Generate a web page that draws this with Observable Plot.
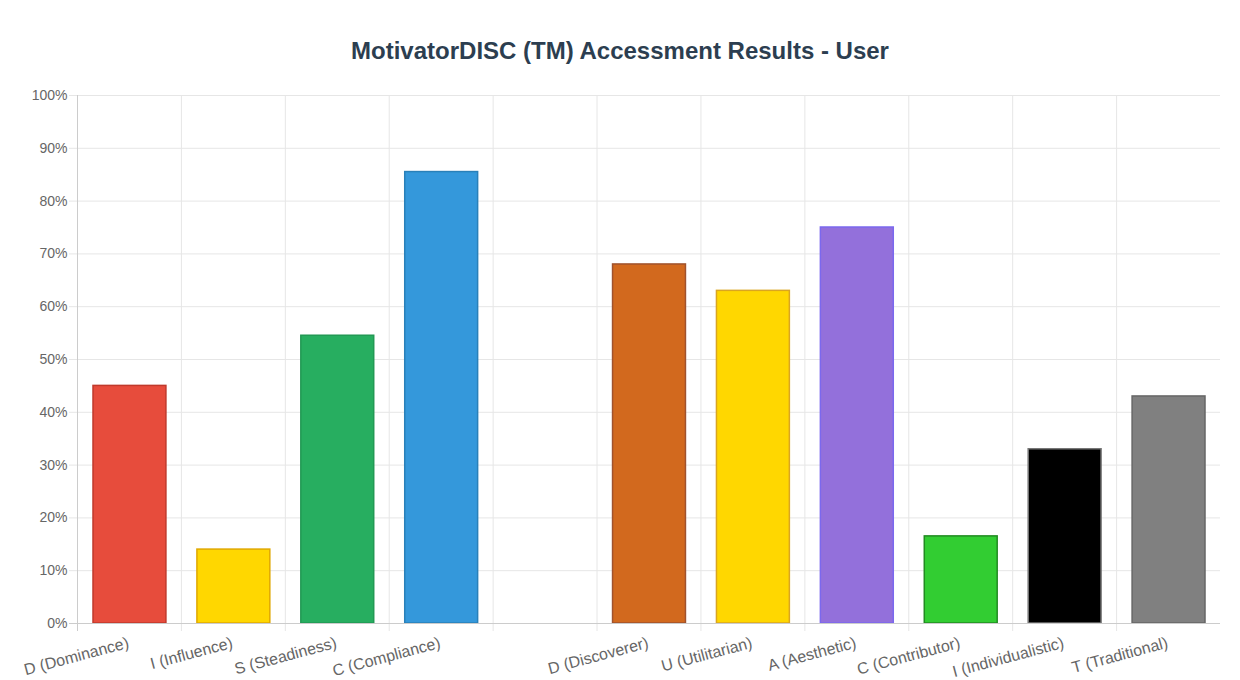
<!DOCTYPE html>
<html>
<head>
<meta charset="utf-8">
<script src="https://cdn.jsdelivr.net/npm/d3@7"></script>
<script src="https://cdn.jsdelivr.net/npm/@observablehq/plot@0.6"></script>
<style>
  html, body { margin: 0; padding: 0; background: #fff; }
  body { width: 1240px; height: 680px; overflow: hidden; font-family: "Liberation Sans", Arial, sans-serif; }
  #title { height: 80px; box-sizing: border-box; padding-top: 36px; text-align: center; font-size: 24px; font-weight: bold; color: #2c3e50; line-height: 30px; }
  #chart svg { display: block; }
</style>
</head>
<body>
<div id="title">MotivatorDISC (TM) Accessment Results - User</div>
<div id="chart"></div>
<script>
const categories = ["D (Dominance)", "I (Influence)", "S (Steadiness)", "C (Compliance)", "", "D (Discoverer)", "U (Utilitarian)", "A (Aesthetic)", "C (Contributor)", "I (Individualistic)", "T (Traditional)"];
const values = [45, 14, 54.5, 85.5, null, 68, 63, 75, 16.5, 33, 43];
const fillColors = ["#e74c3c", "#ffd700", "#27ae60", "#3498db", null, "#d2691e", "#ffd700", "#9370db", "#32cd32", "#000000", "#808080"];
const strokeColors = ["#c0392b", "#e0a800", "#229954", "#2980b9", null, "#a0522d", "#daa520", "#7b68ee", "#228b22", "#777777", "#666666"];
const yTicks = [0, 10, 20, 30, 40, 50, 60, 70, 80, 90, 100];

const data = categories.map((c, i) => ({category: c, value: values[i], fill: fillColors[i], stroke: strokeColors[i]}))
  .filter(d => d.value != null);

const width = 1240, marginLeft = 77, marginRight = 20;
const bw = (width - marginLeft - marginRight) / categories.length;

const chart = Plot.plot({
  width,
  height: 600,
  marginTop: 15,
  marginBottom: 57,
  marginLeft,
  marginRight,
  style: {fontFamily: "'Liberation Sans', Arial, sans-serif", background: "#fff"},
  x: {domain: categories, padding: 0, round: false, label: null},
  y: {domain: [0, 100], label: null},
  color: {type: "identity"},
  marks: [
    Plot.ruleY(yTicks, {stroke: "#e6e6e6", insetLeft: -8}),
    Plot.ruleX(categories.slice(1), {x: d => d, dx: -bw / 2, stroke: "#e6e6e6", insetBottom: -8}),
    Plot.barY(data, {x: "category", y: "value", fill: "fill", stroke: "stroke", strokeWidth: 1.5, insetLeft: 16, insetRight: 15}),
    Plot.ruleX([categories[0]], {x: d => d, dx: -bw / 2, stroke: "#cccccc", insetBottom: -8}),
    Plot.ruleY([0], {stroke: "#cccccc", insetLeft: -8}),
    Plot.axisY({ticks: yTicks, tickSize: 0, tickPadding: 10, tickFormat: d => d + "%", fontSize: 14, color: "#666", label: null}),
    Plot.axisX({tickSize: 0, tickPadding: 19, dx: -1, tickRotate: -15, fontSize: 16, color: "#666", label: null})
  ]
});
document.getElementById("chart").appendChild(chart);
</script>
</body>
</html>
